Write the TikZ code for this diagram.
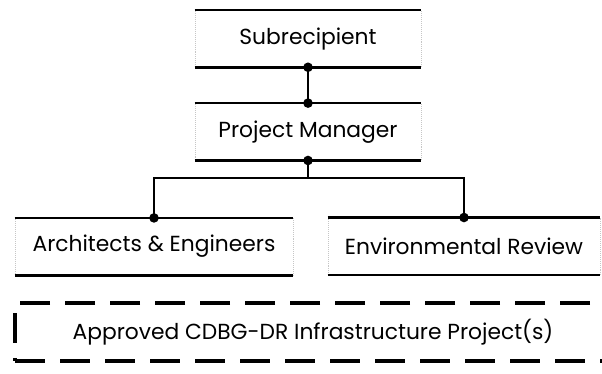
\documentclass[tikz,border=0pt]{standalone}
\usepackage{fontspec}
\setmainfont{Poppins}
\usepackage{tikz}

\tikzset{
  orgbox/.style={draw=gray!45, densely dotted, thin, inner sep=0pt,
                 minimum height=1.42cm, font=\fontsize{15.5}{18}\selectfont},
  edge/.style={line width=1.8pt},
  link/.style={line width=2pt},
  projbox/.style={draw, line width=2.2pt, dash pattern=on 0.75cm off 0.375cm,
                  inner sep=0pt, font=\fontsize{15.5}{18}\selectfont},
}

\begin{document}
\begin{tikzpicture}

       \useasboundingbox (0,0) rectangle (15.05,9.325);

       \node [orgbox, minimum width=5.65cm] (sub)  at (7.7,8.36)  {Subrecipient};
       \node [orgbox, minimum width=5.65cm] (pm)   at (7.7,6.03)  {Project Manager};
       \node [orgbox, minimum width=6.95cm] (arch) at (3.85,3.16) {Architects \& Engineers};
       \node [orgbox, minimum width=6.8cm]  (env)  at (11.6,3.17) {Environmental Review};

       \foreach \n in {sub,pm,arch,env} {
           \draw [edge]  (\n.north west) -- (\n.north east);
           \draw [edge]  (\n.south west) -- (\n.south east);
       }

       \coordinate (bus) at (7.7,4.875);
       \draw [link]   (sub.south) -- (pm.north);
       \draw [link]   (pm.south)  -- (bus);
       \draw [link]   (arch.north) |- (bus) -| (env.north);

       \foreach \p in {sub.south,pm.north,pm.south,arch.north,env.north}
           \fill (\p) circle (0.12);

       \node [projbox, minimum width=14.9cm, minimum height=1.45cm] (proj) at (7.825,1.025)
             {Approved CDBG-DR Infrastructure Project(s)};

\end{tikzpicture}
\end{document}
